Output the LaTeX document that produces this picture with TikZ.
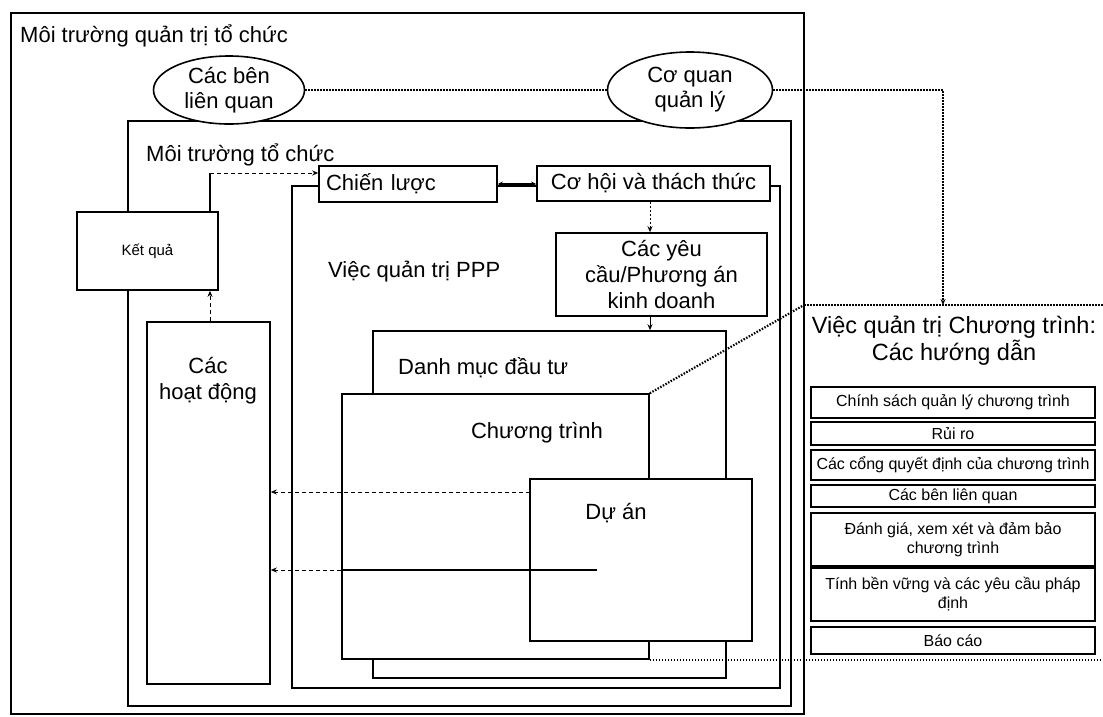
\documentclass[tikz,border=0pt]{standalone}
\usepackage{fontspec}
\setmainfont{Liberation Sans}
\usetikzlibrary{arrows.meta,shapes.geometric}
\begin{document}
\begin{tikzpicture}[x=1pt,y=-1pt,
  frame/.style={draw,line width=1.5pt,inner sep=0pt},
  box/.style={draw,line width=1.6pt,fill=white,inner sep=0pt,align=center},
  pbox/.style={draw,line width=1.6pt,fill=white,inner sep=0pt,align=center,
    minimum width=284pt,font=\fontsize{16}{19}\selectfont},
  big/.style={font=\fontsize{22}{26}\selectfont},
  txt/.style={inner sep=0pt,font=\fontsize{22}{26}\selectfont},
  ell/.style={draw,ellipse,line width=1.6pt,fill=white,inner sep=0pt,align=center,
    font=\fontsize{22}{25}\selectfont},
  dotline/.style={line width=2.2pt,dash pattern=on 1.5pt off 1.5pt},
  dashline/.style={line width=1pt,dash pattern=on 4pt off 3pt},
  tip/.style={-{Stealth[length=6pt,width=5pt]}}
]
\useasboundingbox (0,0) rectangle (1103,716);
\fill[white] (0,0) rectangle (1103,716);

% containers
\node[frame,minimum width=793pt,minimum height=701pt] (outer) at (407.5,363.5) {};
\node[frame,minimum width=663pt,minimum height=585pt] (inner) at (459.5,413.5) {};
\node[frame,minimum width=488pt,minimum height=502pt] (ppp) at (536,437) {};
\node[box,minimum width=353pt,minimum height=347pt] (dm) at (549.5,504.5) {};
\node[box,minimum width=307pt,minimum height=265pt] (ct) at (495.5,526.5) {};
\node[box,minimum width=222pt,minimum height=162pt] (da) at (641,560) {};

% texts of containers
\node[txt,anchor=west] (t1) at (20,36) {Môi trường quản trị tổ chức};
\node[txt,anchor=west] (t2) at (146,155) {Môi trường tổ chức};
\node[txt,anchor=west] (t3) at (328,272) {Việc quản trị PPP};
\node[txt,anchor=west] (t4) at (398,368) {Danh mục đầu tư};
\node[txt] (t5) at (537,433) {Chương trình};
\node[txt] (t6) at (616,513) {Dự án};

% boxes
\node[box,minimum width=141pt,minimum height=78pt,font=\fontsize{15}{18}\selectfont] (kq) at (147.5,251) {Kết quả};
\node[box,minimum width=123pt,minimum height=362pt] (hd) at (208.5,503) {};
\node[txt,align=center] (t7) at (208,381) {Các\\hoạt động};
\node[box,big,minimum width=178pt,minimum height=36pt,text width=164pt,align=left] (cl) at (408,184) {Chiến lược};
\node[box,big,minimum width=233pt,minimum height=35pt] (ch) at (653.5,183.5) {Cơ hội và thách thức};
\node[box,big,minimum width=211pt,minimum height=83pt] (yc) at (661.5,274.5) {Các yêu\\cầu/Phương án\\kinh doanh};

% ellipses
\node[ell,minimum width=151pt,minimum height=68pt] (e1) at (229,90) {Các bên\\liên quan};
\node[ell,minimum width=165pt,minimum height=76pt] (e2) at (690,90) {Cơ quan\\quản lý};

% right panel
\coordinate (ptl) at (804,305);
\coordinate (ptr) at (1103,305);
\coordinate (ptop) at (943,305);
\coordinate (pbr) at (1103,657);
\node[txt,align=center,font=\fontsize{23.5}{27}\selectfont] (pt) at (954,341) {Việc quản trị Chương trình:\\Các hướng dẫn};
\node[pbox,minimum height=31pt] (p1) at (953,402.5) {Chính sách quản lý chương trình};
\node[pbox,minimum height=23pt] (p2) at (953,433.5) {Rủi ro};
\node[pbox,minimum height=30pt] (p3) at (953,465) {Các cổng quyết định của chương trình};
\node[pbox,minimum height=22pt] (p4) at (953,496) {Các bên liên quan};
\node[pbox,minimum height=53pt] (p5) at (953,539.5) {Đánh giá, xem xét và đảm bảo\\chương trình};
\node[pbox,minimum height=53pt] (p6) at (953,594.5) {Tính bền vững và các yêu cầu pháp\\định};
\node[pbox,minimum height=27pt] (p7) at (953,640.5) {Báo cáo};

% connectors
\draw[dotline] (e1.east) -- (e2.west);
\draw[dotline,tip] (e2.east) -| (ptop);
\draw[dotline] (ptl) -- (ptr);
\draw[dotline] (ct.north east) -- (ptl);
\draw[dotline] (ct.south east) -- (ct.south east -| pbr);

\coordinate (kqt) at (210,173);
\draw[line width=1.3pt] (kq.north -| kqt) -- (kqt);
\draw[dashline,tip] (kqt) -- (kqt -| cl.west);
\draw[dashline,tip] (hd.north -| kqt) -- (kq.south -| kqt);

\draw[line width=2pt,{Stealth[length=5pt,width=5pt]}-{Stealth[length=5pt,width=5pt]}] (cl.east) -- (cl.east -| ch.west);

\coordinate (ax) at (650,0);
\draw[line width=1pt,dash pattern=on 2pt off 2pt,tip] (ch.south -| ax) -- (yc.north -| ax);
\draw[line width=1pt,tip] (yc.south -| ax) -- (dm.north -| ax);

\coordinate (d1) at (530,492);
\draw[dashline,tip] (d1) -- (d1 -| hd.east);
\coordinate (d2) at (597,570);
\draw[line width=1.4pt] (d2) -- (d2 -| ct.west);
\draw[dashline,tip] (d2 -| ct.west) -- (d2 -| hd.east);
\end{tikzpicture}
\end{document}
